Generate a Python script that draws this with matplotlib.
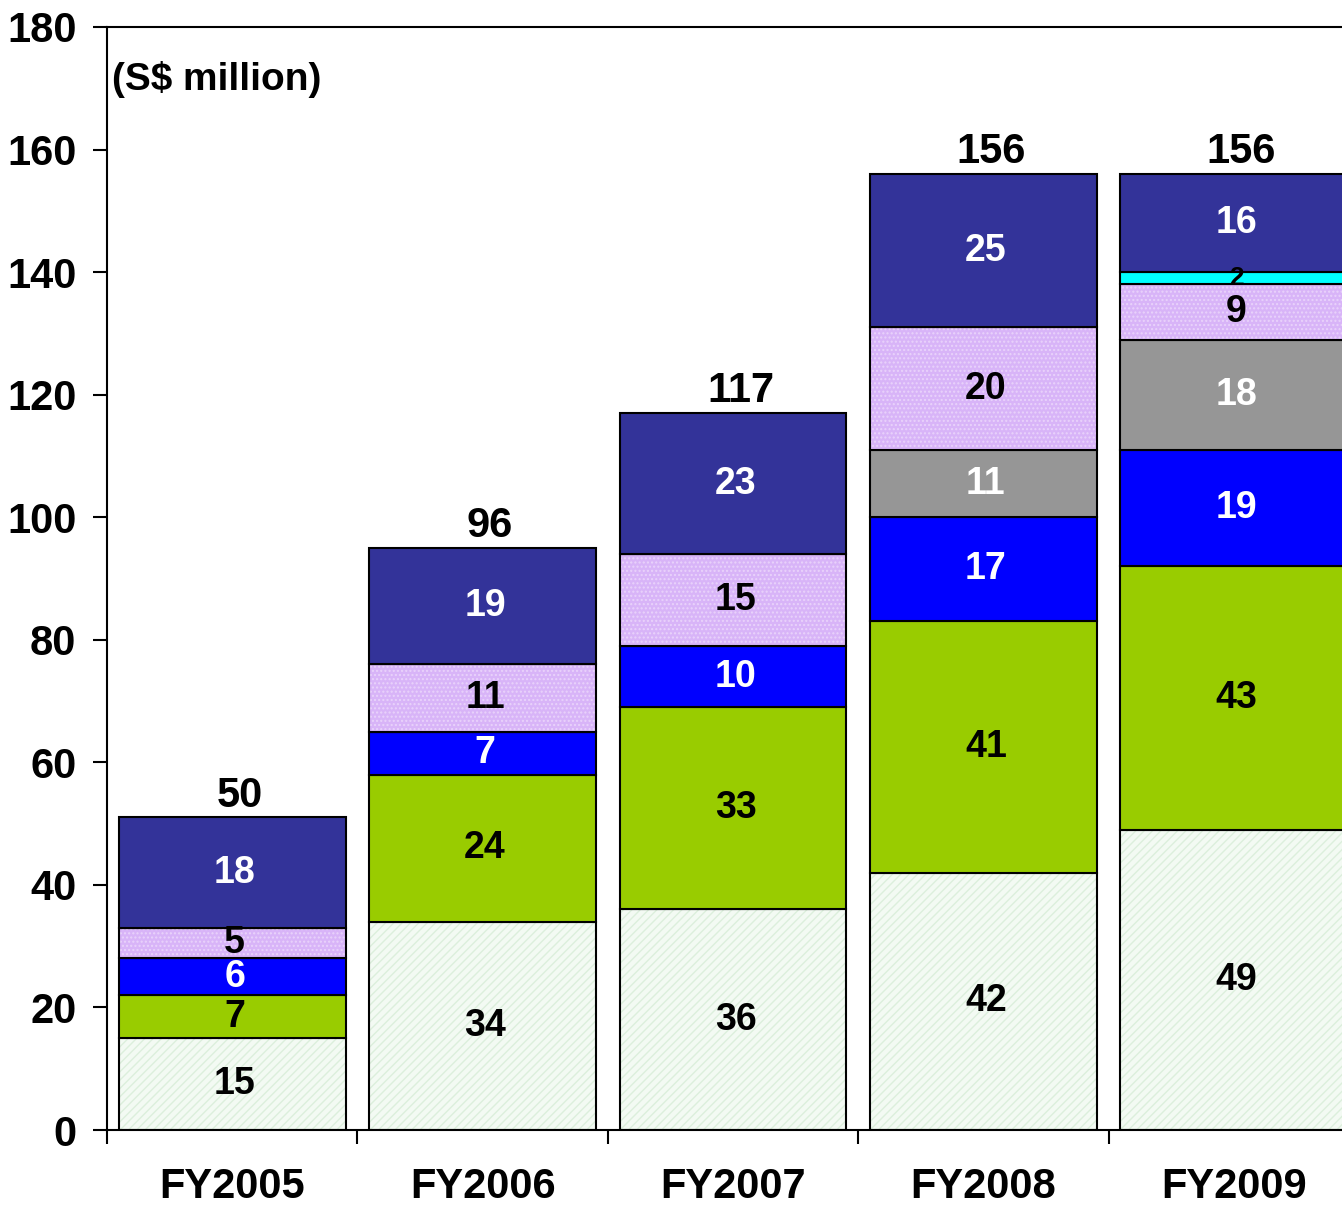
import numpy as np
import matplotlib.pyplot as plt

plt.rcParams['font.family'] = ['Liberation Sans', 'DejaVu Sans']
plt.rcParams['font.weight'] = 'bold'

years = ['FY2005', 'FY2006', 'FY2007', 'FY2008', 'FY2009']
# series from bottom to top
s1 = [15, 34, 36, 42, 49]
s2 = [7, 24, 33, 41, 43]
s3 = [6, 7, 10, 17, 19]
s4 = [0, 0, 0, 11, 18]
s5 = [5, 11, 15, 20, 9]
s6 = [0, 0, 0, 0, 2]
s7 = [18, 19, 23, 25, 16]
totals = [50, 96, 117, 156, 156]

series = [s1, s2, s3, s4, s5, s6, s7]
faces = ['#F3FAF3', '#99CC00', '#0000FF', '#969696', '#D8B4F8', '#00FFFF', '#333399']
hatches = ['////', None, None, None, '....', None, None]
hatch_cols = ['#DCEFDC', None, None, None, '#E9D3FB', None, None]
txt_cols = ['black', 'black', 'white', 'white', 'black', 'black', 'white']

fig = plt.figure(figsize=(13.42, 12.11), dpi=100)
ax = fig.add_axes([107/1342, 1 - 1130/1211, 1252/1342, 1103/1211])

x = np.arange(len(years))
w = 0.905
bottom = np.zeros(len(years))
for vals, fc, h, hc, tc in zip(series, faces, hatches, hatch_cols, txt_cols):
    vals = np.array(vals, dtype=float)
    if h:
        ax.bar(x, vals, w, bottom=bottom, color=fc, edgecolor=hc, hatch=h, linewidth=0)
        ax.bar(x, vals, w, bottom=bottom, fill=False, edgecolor='black', linewidth=1.5)
    else:
        ax.bar(x, vals, w, bottom=bottom, color=fc, edgecolor='black', linewidth=1.5)
    for xi, b, v in zip(x, bottom, vals):
        if v > 0:
            fs = 19 if v < 3 else 27
            ax.text(xi + 0.01, b + v / 2, f'{int(v)}', ha='center', va='center',
                    color=tc, fontsize=fs, fontweight='bold', zorder=10)
    bottom += vals

for xi, b, t in zip(x, bottom, totals):
    ax.text(xi + 0.03, b + 0.3, str(t), ha='center', va='bottom', fontsize=30,
            fontweight='bold', zorder=10)

ax.set_xlim(-0.5, 4.5)
ax.set_ylim(0, 180)
ax.set_yticks(range(0, 181, 20))
ax.set_xticks(x)
ax.set_xticklabels(years)
ax.set_xticks(np.arange(-0.5, 5, 1), minor=True)
ax.tick_params(axis='x', which='major', length=0, pad=27, labelsize=30)
ax.tick_params(axis='x', which='minor', length=10, width=1.5, direction='out')
ax.tick_params(axis='y', length=10, width=1.5, direction='out', labelsize=30, pad=12)
for lab in ax.get_xticklabels() + ax.get_yticklabels():
    lab.set_fontweight('bold')
for sp in ['left', 'bottom', 'top']:
    ax.spines[sp].set_linewidth(1.5)
ax.spines['right'].set_visible(False)

ax.text(0.004, 0.969, '(S$ million)', transform=ax.transAxes, ha='left', va='top',
        fontsize=28, fontweight='bold')

fig.savefig('out.png', dpi=100)
